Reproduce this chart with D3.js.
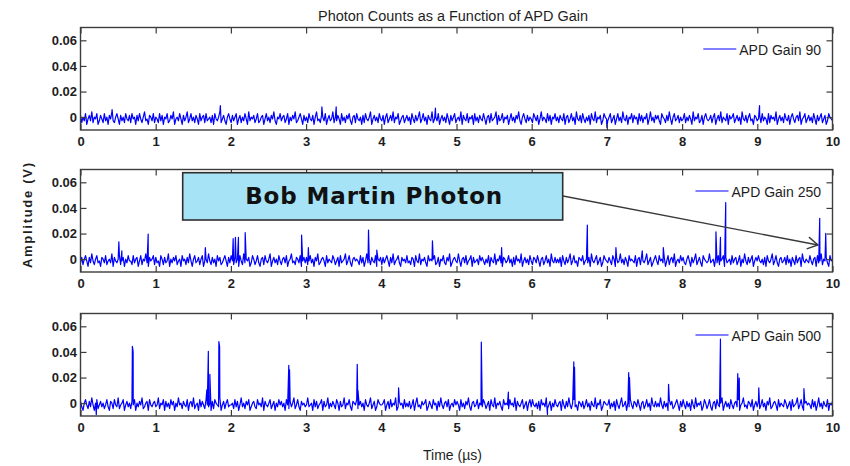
<!DOCTYPE html>
<html><head><meta charset="utf-8">
<script src="https://cdn.jsdelivr.net/npm/d3@7"></script>
<style>
html,body{margin:0;padding:0;background:#fff;}
svg{display:block;font-family:"Liberation Sans",Arial,sans-serif;}
</style></head>
<body>
<script>
// ---------- DATA ----------
const title = "Photon Counts as a Function of APD Gain";
const seriesNames = ["APD Gain 90", "APD Gain 250", "APD Gain 500"];
const xTicks = [0,1,2,3,4,5,6,7,8,9,10];
const yTicks = [0,0.02,0.04,0.06];
const yTickLabels = ["0","0.02","0.04","0.06"];
const timeSpan = [0, 10];          // µs
const yDomain = [-0.01, 0.07];     // V
const voltsPerCount = 0.0014;      // noise samples are digitizer counts

// baseline noise samples (counts)
const noise90 = [
1,-3,0,-2,2,-4,-1,1,-2,3,-3,0,-1,2,-4,-2,1,-1,-3,2,
-2,0,-4,1,-1,3,-2,-3,0,2,-1,-4,1,-2,0,-3,2,-1,-2,1,
-3,2,-1,0,-4,1,-2,2,-1,-3,0,3,-2,-1,-4,1,0,-2,2,-3,
0,-1,-3,2,-2,1,-4,0,-1,2,-3,-2,1,-1,3,-4,-1,0,-2,2,
-1,-4,1,-2,0,3,-3,-1,2,-2,0,-3,1,-1,-4,2,-2,0,1,-3,
2,-2,-1,0,-3,1,-4,2,-1,-2,0,3,-3,-1,1,-2,-4,0,2,-1,
-3,1,-2,0,2,-4,-1,1,-3,0,-2,2,-1,-4,3,-2,0,-1,1,-3,
-1,2,-3,-2,0,1,-4,-1,2,-2,0,-3,1,-1,3,-2,-4,0,-1,2,
-2,0,1,-3,-1,2,-4,0,-2,1,-1,3,-3,-2,0,2,-1,-4,1,-2,
0,-3,2,-1,-2,1,-4,0,3,-2,-1,-3,1,0,-2,2,-4,-1,1,-2,
-1,3,-3,0,-2,1,-1,-4,2,-2,0,-3,1,-1,2,-2,-4,0,1,-3,
2,-1,-2,0,-4,1,-3,2,-1,-2,0,3,-4,-1,1,-2,0,-3,2,-1,
-2,1,-4,0,2,-3,-1,1,-2,3,-3,0,-1,2,-4,-2,0,1,-3,-1,
1,-2,0,-4,2,-1,-3,1,-2,0,3,-3,-1,2,-2,0,-4,1,-1,-2,
3,-3,-1,0,-2,2,-4,-1,1,-2,0,-3,2,-1,-4,1,-2,0,2,-3,
-1,0,-2,3,-4,1,-1,-2,2,-3,0,-1,1,-4,2,-2,0,-3,1,-1,
-2,2,-1,-4,0,1,-3,2,-2,-1,0,3,-4,1,-2,-1,2,-3,0,-1,
1,-4,-1,2,-2,0,-3,1,-1,3,-2,-4,0,2,-1,-3,1,-2,0,-1,
-3,2,0,-2,1,-4,-1,3,-2,0,-1,-3,2,-2,1,-4,0,-1,2,-2,
0,-3,1,-1,-2,2,-4,0,1,-3,-1,2,-2,0,-4,3,-1,-2,1,-3,
2,-1,-3,0,-2,1,-4,2,-1,-2,3,-3,0,-1,1,-4,-2,2,0,-1,
-2,0,2,-3,-1,1,-4,-1,2,-2,0,-3,3,-1,-2,1,-4,0,-1,2,
-3,1,-1,0,-4,2,-2,1,-3,0,-1,2,-4,-1,3,-2,0,-3,1,-1,
1,-2,-4,2,0,-1,-3,1,-2,3,-1,-4,0,2,-2,-1,1,-3,0,-2,
-1,2,-3,0,-2,1,-1,-4,3,-2,0,-1,2,-3,-2,1,-4,0,2,-1,
-2,-1,1,-3,0,2,-4,-1,1,-2,3,-3,0,-1,-2,2,-4,1,-1,0,
2,-3,-1,1,-2,0,-4,3,-1,-2,1,-3,0,2,-2,-1,-4,1,0,-2,
-1,1,-3,2,-2,0,-1,-4,2,-3,1,-1,0,-2,3,-4,-1,1,-2,0,
-3,2,-1,-2,1,-4,0,2,-1,-3,0,1,-2,3,-4,-1,0,2,-3,-1,
1,-2,0,-3,2,-1,-4,1,-2,0,2,-3,-1,1,-4,-2,2,0,-1,-2];
const noise250 = [
-2,1,-3,0,2,-1,-4,1,-2,3,-1,-3,0,2,-2,-1,-4,1,0,-2,
2,-3,-1,0,-2,3,-4,1,-1,-2,0,2,-3,-1,1,-4,0,-2,2,-1,
-1,-3,2,-2,0,1,-4,-1,2,-3,0,-1,3,-2,-4,1,-1,0,2,-3,
1,-2,-1,-4,2,0,-3,1,-2,-1,3,-4,0,-2,1,-1,2,-3,-1,0,
-4,2,-1,0,-3,1,-2,3,-1,-4,0,2,-2,-1,1,-3,0,2,-4,-1,
0,-2,3,-1,-3,1,-2,0,-4,2,-1,1,-3,-2,0,2,-1,-4,1,-2,
2,-1,-3,1,-2,0,-4,2,-1,-3,3,-2,0,-1,1,-4,-2,2,0,-3,
-1,2,-2,-4,0,1,-3,2,-1,-2,0,3,-4,-1,1,-2,0,-3,2,-1,
-3,0,1,-2,2,-4,-1,0,3,-2,-1,-3,1,0,-2,2,-4,-1,1,-2,
1,-3,-1,2,-2,0,-4,1,-1,3,-3,-2,0,1,-1,-4,2,-2,0,-1,
-2,2,0,-3,-1,1,-4,2,-2,-1,0,3,-3,-1,2,-2,-4,0,1,-1,
0,-1,-3,2,-2,1,-4,-1,3,-2,0,-3,1,-1,-2,2,-4,0,-1,1,
-3,1,-2,0,2,-1,-4,1,-2,3,-3,-1,0,2,-2,-4,1,-1,0,-2,
2,-2,-1,-3,1,0,-4,2,-1,-2,3,-3,0,-1,1,-2,-4,2,-1,0,
-1,0,2,-3,-2,1,-4,0,-1,2,-2,-3,1,-1,3,-4,-2,0,1,-1,
-2,3,-1,-4,0,1,-2,2,-3,-1,0,2,-4,1,-2,-1,0,-3,2,-1,
1,-1,-3,0,-2,2,-4,1,-1,-2,3,-3,0,-1,2,-2,-4,1,0,-2,
-1,2,-2,0,-4,1,-3,2,-1,0,-2,3,-4,-1,1,-2,0,-3,2,-1,
-3,1,0,-2,2,-1,-4,0,1,-3,-1,2,-2,0,-4,3,-1,-2,1,-2,
0,-2,1,-4,2,-1,-3,1,-2,0,3,-3,-1,2,-2,-1,-4,1,0,-1,
2,-3,-1,0,-2,1,-4,3,-1,-2,0,2,-3,-1,1,-4,-2,2,0,-1,
-2,1,-1,-3,2,0,-4,1,-2,-1,3,-2,0,-3,1,-1,-4,2,-1,0,
-1,-2,2,-4,0,1,-3,2,-1,-2,0,3,-3,-1,1,-4,-2,0,2,-1,
-3,2,-1,0,-2,1,-4,-1,2,-3,0,1,-2,3,-4,-1,0,-2,2,-1,
1,-2,-3,0,2,-1,-4,1,-2,0,3,-3,-1,1,-2,-4,2,0,-1,-2,
-1,3,-2,-1,0,-4,1,-2,2,-3,-1,0,2,-4,1,-2,-1,0,-3,2,
-2,0,1,-3,-1,2,-4,0,-2,3,-1,-3,1,-2,0,2,-4,-1,1,-1,
2,-1,-2,0,-3,1,-4,2,-1,-2,0,3,-3,-1,2,-2,-4,0,1,-2,
-1,1,-3,2,-2,0,-4,1,-1,-3,2,-2,0,1,-4,3,-1,-2,0,-1,
-2,2,-1,-3,0,1,-4,2,-2,-1,3,-3,0,-1,1,-2,-4,2,-1,0];
const noise500 = [
1,-2,-4,0,2,-1,-3,1,-2,3,-1,-4,0,2,-3,-1,1,-2,0,-3,
-1,2,-2,-4,1,0,-3,2,-1,-2,3,-3,-1,0,2,-4,-1,1,-2,0,
-3,1,-1,2,-4,0,-2,1,-1,3,-3,-2,0,1,-4,2,-1,-2,0,1,
-2,-1,3,-3,0,-1,2,-4,1,-2,0,-3,2,-1,1,-4,0,-2,3,-1,
0,-3,1,-1,-2,2,-4,0,1,-2,3,-3,-1,0,-4,2,-2,1,-1,-3,
2,-1,-2,0,-4,1,-3,2,0,-1,-2,3,-4,-1,1,-3,0,2,-2,-1,
-1,0,-3,2,-2,1,-4,-1,3,-2,0,-3,1,-1,2,-4,-2,0,1,-2,
-3,2,-1,0,-2,3,-4,1,-1,-2,0,2,-3,-1,1,-4,0,-2,2,-1,
1,-2,0,-4,2,-1,-3,1,-2,0,3,-3,-1,2,-2,-4,1,-1,0,-2,
-1,3,-2,-1,0,-4,2,-2,1,-3,-1,0,2,-4,1,-2,-1,3,-3,0,
-2,1,-1,-3,2,0,-4,1,-2,-1,3,-3,0,-1,2,-2,-4,1,0,-1,
2,-3,-1,1,-2,0,-4,2,-1,-2,0,3,-3,-1,1,-4,-2,2,0,-1,
-1,0,2,-4,-1,1,-3,2,-2,0,-1,3,-4,-2,1,-1,0,-3,2,-2,
0,-2,1,-3,-1,2,-4,0,3,-2,-1,-3,1,-1,0,2,-4,-2,1,-1,
-3,2,-1,0,-4,1,-2,3,-1,-3,0,1,-2,2,-4,-1,0,-2,2,-1,
1,-1,-4,2,-2,0,-3,1,-1,3,-2,-4,0,1,-2,-1,2,-3,0,-1,
-2,2,0,-3,-1,1,-4,2,-1,-2,3,-3,0,-1,1,-2,-4,2,-1,0,
-1,-3,2,-1,0,-2,3,-4,1,-1,-2,0,2,-3,-1,1,-4,0,2,-2,
2,-1,-2,0,-3,1,-4,2,-1,0,-2,3,-3,-1,1,-4,0,-2,2,-1,
-2,0,1,-4,2,-1,-3,1,-2,3,-1,-3,0,2,-2,-1,-4,1,0,-2,
1,-3,-1,2,-2,0,-4,1,-1,-2,3,-3,0,-1,2,-4,-2,1,0,-1,
-1,2,-3,0,-2,1,-4,2,-1,-3,0,3,-2,-1,1,-4,0,-2,2,-1,
-3,1,0,-2,2,-1,-4,0,1,-3,-1,2,-2,0,-4,3,-1,-2,1,-2,
0,-2,3,-1,-3,1,-2,0,-4,2,-1,1,-3,-2,0,2,-1,-4,1,-2,
2,-1,-3,1,-2,0,-4,2,-1,-3,3,-2,0,-1,1,-4,-2,2,0,-3,
-1,2,-2,-4,0,1,-3,2,-1,-2,0,3,-4,-1,1,-2,0,-3,2,-1,
-3,0,1,-2,2,-4,-1,0,3,-2,-1,-3,1,0,-2,2,-4,-1,1,-2,
1,-3,-1,2,-2,0,-4,1,-1,3,-3,-2,0,1,-1,-4,2,-2,0,-1,
-2,2,0,-3,-1,1,-4,2,-2,-1,0,3,-3,-1,2,-2,-4,0,1,-1,
0,-1,-3,2,-2,1,-4,-1,3,-2,0,-3,1,-1,-2,2,-4,0,-1,1];

// photon pulses: [time µs, amplitude mV]
const spikes90 = [[0.42,6],[1.86,9],[3.21,8],[3.40,8],[4.72,7],[7.00,-8],[9.03,9]];
const spikes250 = [[0.51,13.6],[0.55,6.5],[0.90,19.6],[1.66,9],[2.03,16],[2.06,17],[2.10,17],
  [2.19,20.7],[2.94,18.8],[3.03,9],[3.83,22.7],[3.94,7],[4.68,14.4],[5.60,9],[6.74,26.7],
  [7.12,9],[7.47,6.5],[7.75,9],[8.45,21.4],[8.51,17],[8.58,44.2],[9.83,31.9],[9.91,20.1]];
const spikes500 = [[0.21,-9],[0.69,44.4],[0.70,40],[1.68,10.5],[1.70,40.5],[1.72,22.5],[1.84,48.1],
  [1.85,44],[2.77,29.5],[2.78,26],[3.68,30.3],[3.69,10],[4.23,12],[5.33,47.6],[5.69,8.6],
  [6.21,-8.9],[6.56,32.2],[6.57,28],[7.29,23.8],[7.30,20],[7.82,14.7],[8.51,50],[8.74,23],
  [8.76,19.6],[9.02,12],[9.62,11.3]];

const annotationText = "Bob Martin Photon";
const xLabel = "Time (\u00b5s)";
const yLabel = "Amplitude (V)";

// ---------- LAYOUT ----------
const W = 850, H = 466;
const left = 80.5, right = 832.5, ph = 102.5;
const tops = [27.5, 169.5, 313.5];
const noises = [noise90, noise250, noise500];
const spikeSets = [spikes90, spikes250, spikes500];
const frameColor = "#3c3c3c", textColor = "#1e1e1e", traceColor = "#0000ff";

const svg = d3.select("body").append("svg").attr("width", W).attr("height", H);
const x = d3.scaleLinear().domain(timeSpan).range([left, right]);

svg.append("text").attr("x", 453).attr("y", 20.5).attr("text-anchor", "middle")
  .attr("font-size", 14).attr("fill", textColor)
  .attr("textLength", 270).attr("lengthAdjust", "spacingAndGlyphs").text(title);

tops.forEach((top, k) => {
  const y = d3.scaleLinear().domain(yDomain).range([top + ph, top]);
  const g = svg.append("g");

  // trace
  const n = noises[k];
  const dt = (timeSpan[1] - timeSpan[0]) / (n.length - 1);
  const pts = n.map((v, i) => [timeSpan[0] + i * dt, v * voltsPerCount])
    .concat(spikeSets[k].map(s => [s[0], s[1] / 1000]))
    .sort((a, b) => a[0] - b[0]);
  const clipId = "clip" + k;
  svg.append("clipPath").attr("id", clipId).append("rect")
    .attr("x", left).attr("y", top).attr("width", right - left).attr("height", ph);
  g.append("path").datum(pts)
    .attr("clip-path", `url(#${clipId})`)
    .attr("fill", "none").attr("stroke", traceColor).attr("stroke-width", 1.2)
    .attr("stroke-linejoin", "round")
    .attr("d", d3.line().x(d => x(d[0])).y(d => y(d[1])));

  // axes with inward ticks
  const fmtY = d => yTickLabels[yTicks.indexOf(d)];
  const ax = [
    [d3.axisLeft(y).tickValues(yTicks).tickFormat(fmtY).tickSizeInner(-6).tickSizeOuter(0).tickPadding(3.5), `translate(${left},0)`],
    [d3.axisRight(y).tickValues(yTicks).tickFormat("").tickSizeInner(-6).tickSizeOuter(0), `translate(${right},0)`],
    [d3.axisTop(x).tickValues(xTicks).tickFormat("").tickSizeInner(-6).tickSizeOuter(0), `translate(0,${top})`],
    [d3.axisBottom(x).tickValues(xTicks).tickFormat(d3.format("d")).tickSizeInner(-6).tickSizeOuter(0).tickPadding(7), `translate(0,${top + ph})`]
  ];
  ax.forEach(([a, tr]) => {
    const ag = g.append("g").attr("transform", tr).call(a);
    ag.select(".domain").remove();
    ag.selectAll("line").attr("stroke", frameColor).attr("stroke-width", 1.2);
    ag.selectAll("text").attr("fill", textColor).attr("font-size", 13).attr("font-weight", "bold")
      .attr("font-family", '"Liberation Sans",Arial,sans-serif');
  });
  g.append("rect").attr("x", left).attr("y", top).attr("width", right - left).attr("height", ph)
    .attr("fill", "none").attr("stroke", frameColor).attr("stroke-width", 1.4);

  // legend
  const lt = g.append("text").attr("x", 821).attr("y", top + 27.5).attr("text-anchor", "end")
    .attr("font-size", 14).attr("fill", textColor).text(seriesNames[k]);
  const tw = lt.node().getComputedTextLength();
  g.append("line").attr("x1", 821 - tw - 36).attr("x2", 821 - tw - 3)
    .attr("y1", top + 21.5).attr("y2", top + 21.5)
    .attr("stroke", traceColor).attr("stroke-width", 1.2);
});

// axis labels
svg.append("text").attr("transform", "translate(31.5,215.5) rotate(-90)")
  .attr("text-anchor", "middle").attr("font-size", 13).attr("font-weight", "bold")
  .attr("fill", textColor).attr("textLength", 105).attr("lengthAdjust", "spacing").text(yLabel);
svg.append("text").attr("x", 452.5).attr("y", 460).attr("text-anchor", "middle")
  .attr("font-size", 14).attr("fill", textColor).text(xLabel);

// annotation box + arrow
const ann = svg.append("g");
ann.append("rect").attr("x", 182.7).attr("y", 172.7).attr("width", 380).attr("height", 47.3)
  .attr("fill", "#a6e3f7").attr("stroke", "#2e2e2e").attr("stroke-width", 1.6);
ann.append("text").attr("x", 373.7).attr("y", 203.5).attr("text-anchor", "middle")
  .attr("font-size", 23).attr("font-weight", "bold").attr("fill", "#111")
  .attr("font-family", '"DejaVu Sans",Verdana,sans-serif')
  .attr("textLength", 257).attr("lengthAdjust", "spacing").text(annotationText);
const a0 = [563, 196], a1 = [818, 245];
ann.append("line").attr("x1", a0[0]).attr("y1", a0[1]).attr("x2", a1[0]).attr("y2", a1[1])
  .attr("stroke", "#3a3a3a").attr("stroke-width", 1.4);
const ang = Math.atan2(a1[1] - a0[1], a1[0] - a0[0]);
const hl = 12, ha = Math.PI / 6;
const p1 = [a1[0] - hl * Math.cos(ang - ha), a1[1] - hl * Math.sin(ang - ha)];
const p2 = [a1[0] - hl * Math.cos(ang + ha), a1[1] - hl * Math.sin(ang + ha)];
ann.append("path").attr("d", `M${p1[0]},${p1[1]}L${a1[0]},${a1[1]}L${p2[0]},${p2[1]}`)
  .attr("fill", "none").attr("stroke", "#3a3a3a").attr("stroke-width", 1.4);
</script>
</body></html>
